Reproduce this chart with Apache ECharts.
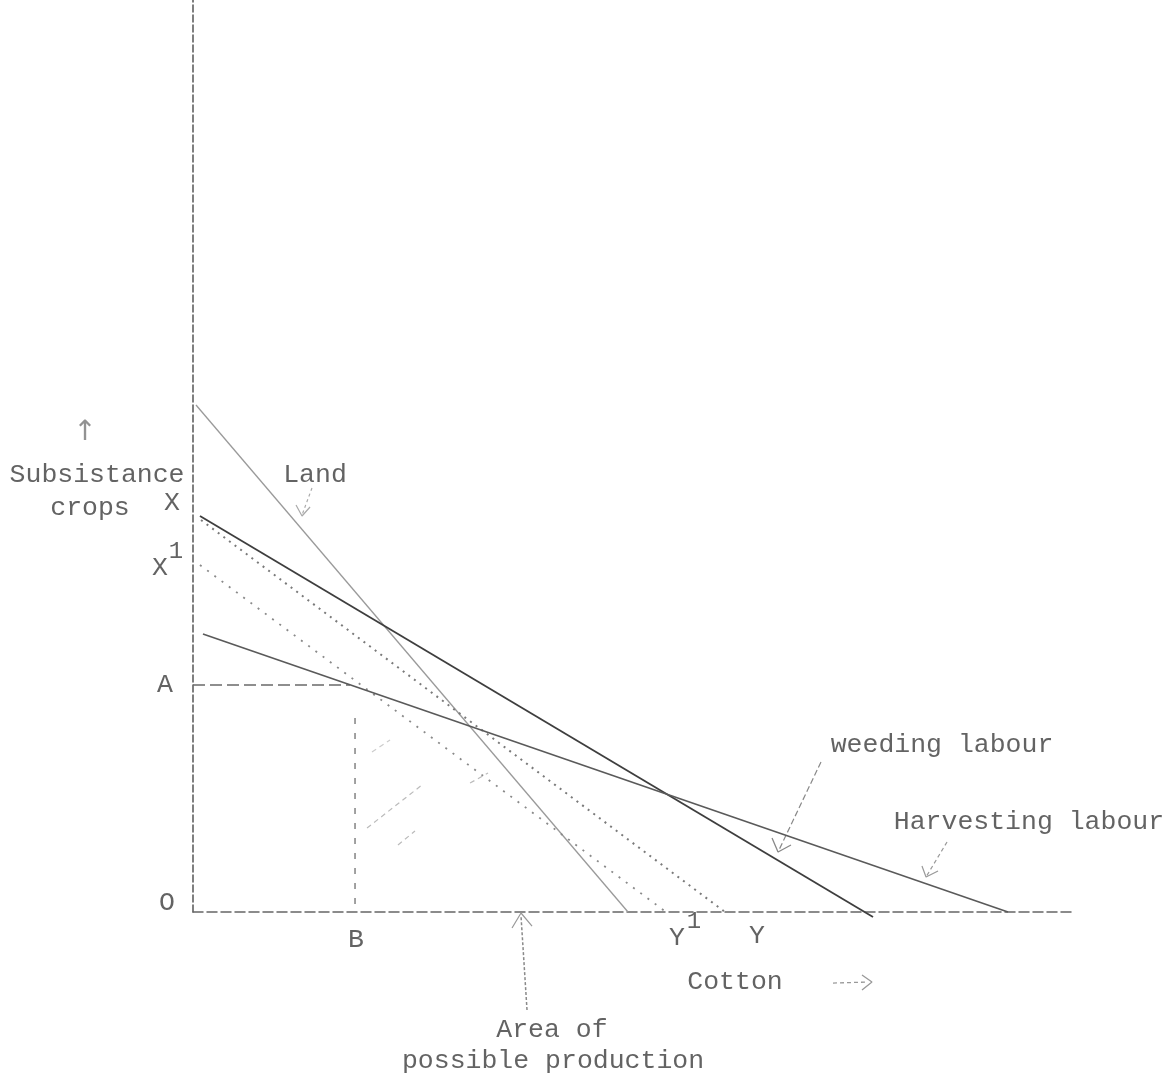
<!DOCTYPE html>
<html>
<head>
<meta charset="utf-8">
<script src="https://cdn.jsdelivr.net/npm/echarts@6/dist/echarts.min.js"></script>
<style>
html,body{margin:0;padding:0;background:#fff;}
#chart{width:1170px;height:1087px;}
</style>
</head>
<body>
<div id="chart"></div>
<script>
// Data units: cotton (x) 0-100, subsistence crops (y) 0-100
const landLine = [[0.34, 55.59], [49.32, 0]];
const weedingLine = [[0.79, 43.42], [77.10, -0.55]];
const harvestingLine = [[1.13, 30.48], [92.40, 0]];
const dottedXY = [[0.91, 42.98], [60.32, 0]];
const dottedX1Y1 = [[0.79, 38.05], [53.63, 0]];
const dashA = [[0, 24.89], [17.80, 24.89]];
const dashB = [[18.37, 21.27], [18.37, 0]];

const arrowLand = [[13.49, 46.49], [12.36, 43.53]];
const arrowLandHead = [[11.68, 44.63], [12.36, 43.42], [13.27, 44.41]];
const arrowWeeding = [[71.2, 16.45], [66.33, 6.58]];
const arrowWeedingHead = [[65.65, 8.11], [66.33, 6.58], [67.80, 7.35]];
const arrowHarvest = [[85.49, 7.68], [83.11, 3.84]];
const arrowHarvestHead = [[82.65, 5.04], [83.11, 3.84], [84.47, 4.50]];
const arrowArea = [[37.87, -10.75], [37.19, -0.44]];
const arrowAreaHead = [[36.17, -1.75], [37.19, -0.11], [38.44, -1.54]];
const arrowCotton = [[72.56, -7.79], [76.53, -7.68]];
const arrowCottonHead = [[75.85, -6.91], [76.98, -7.68], [75.85, -8.55]];

const hatch1 = [[19.73, 9.21], [25.96, 13.93]];
const hatch2 = [[23.24, 7.35], [25.17, 8.88]];
const hatch3 = [[31.41, 14.14], [33.45, 15.24]];
const hatch4 = [[20.29, 17.54], [22.34, 18.86]];

const textLabels = [
  ['Subsistance', -10.88, 47.92],
  ['crops', -11.68, 44.30],
  ['X', -2.38, 44.85],
  ['X', -3.74, 37.72],
  ['A', -3.17, 24.89],
  ['O', -2.95, 0.99],
  ['B', 18.48, -3.07],
  ['Y', 54.88, -2.85],
  ['Y', 63.95, -2.63],
  ['Cotton', 61.45, -7.68],
  ['Land', 13.83, 47.92],
  ['weeding labour', 84.92, 18.31],
  ['Harvesting labour', 94.78, 9.87],
  ['Area of', 40.70, -12.94],
  ['possible production', 40.82, -16.34]
];
const superLabels = [
  ['1', -1.93, 39.47],
  ['1', 56.80, -1.10]
];
const arrowGlyphs = [
  ['↑', -12.24, 52.6]
];

const FONT = '"Liberation Mono", "DejaVu Sans Mono", monospace';

function seg(data, color, width, type, z) {
  return {
    type: 'line', data: data, clip: false, symbol: 'none', silent: true,
    animation: false, z: z || 2,
    lineStyle: { color: color, width: width, type: type || 'solid' }
  };
}
function textSeries(rows, size, color, family) {
  return {
    type: 'scatter', clip: false, silent: true, symbolSize: 0, animation: false,
    data: rows.map(d => ({ name: d[0], value: [d[1], d[2]] })),
    label: {
      show: true, position: 'inside', formatter: p => p.name,
      fontFamily: family || FONT, fontSize: size, color: color,
      align: 'center', verticalAlign: 'middle'
    }
  };
}

const chart = echarts.init(document.getElementById('chart'));
chart.setOption({
  animation: false,
  backgroundColor: '#ffffff',
  grid: { left: 193, top: 0, right: 95, bottom: 175 },
  xAxis: {
    type: 'value', min: 0, max: 100,
    axisLine: { show: true, onZero: false, lineStyle: { color: '#666', width: 1.5, type: [10, 4] } },
    axisTick: { show: false }, axisLabel: { show: false }, splitLine: { show: false }
  },
  yAxis: {
    type: 'value', min: 0, max: 100,
    axisLine: { show: true, onZero: false, lineStyle: { color: '#555', width: 1.5, type: [7, 3] } },
    axisTick: { show: false }, axisLabel: { show: false }, splitLine: { show: false }
  },
  series: [
    seg(landLine, '#9a9a9a', 1.3, 'solid'),
    seg(weedingLine, '#3e3e3e', 1.8, 'solid', 3),
    seg(harvestingLine, '#5a5a5a', 1.6, 'solid', 3),
    seg(dottedXY, '#7a7a7a', 2, [2, 5]),
    seg(dottedX1Y1, '#8a8a8a', 1.8, [2, 7]),
    seg(dashA, '#6a6a6a', 1.4, [12, 5]),
    seg(dashB, '#7a7a7a', 1.4, [6, 9]),
    seg(arrowLand, '#aaaaaa', 1.2, [3, 3]),
    seg(arrowLandHead, '#aaaaaa', 1.2, 'solid'),
    seg(arrowWeeding, '#888888', 1.2, [6, 3]),
    seg(arrowWeedingHead, '#888888', 1.3, 'solid'),
    seg(arrowHarvest, '#999999', 1.2, [4, 3]),
    seg(arrowHarvestHead, '#999999', 1.2, 'solid'),
    seg(arrowArea, '#8a8a8a', 1.5, [3, 2]),
    seg(arrowAreaHead, '#999999', 1.2, 'solid'),
    seg(arrowCotton, '#999999', 1.3, [4, 3]),
    seg(arrowCottonHead, '#999999', 1.3, 'solid'),
    seg(hatch1, '#bbbbbb', 1.2, [5, 4]),
    seg(hatch2, '#bbbbbb', 1.2, [5, 4]),
    seg(hatch3, '#bbbbbb', 1.2, [5, 4]),
    seg(hatch4, '#cccccc', 1.2, [5, 4]),
    textSeries(textLabels, 26.5, '#3c3c3c'),
    textSeries(superLabels, 24, '#3c3c3c'),
    textSeries(arrowGlyphs, 28, '#777777', '"DejaVu Sans", sans-serif')
  ]
});
</script>
</body>
</html>
